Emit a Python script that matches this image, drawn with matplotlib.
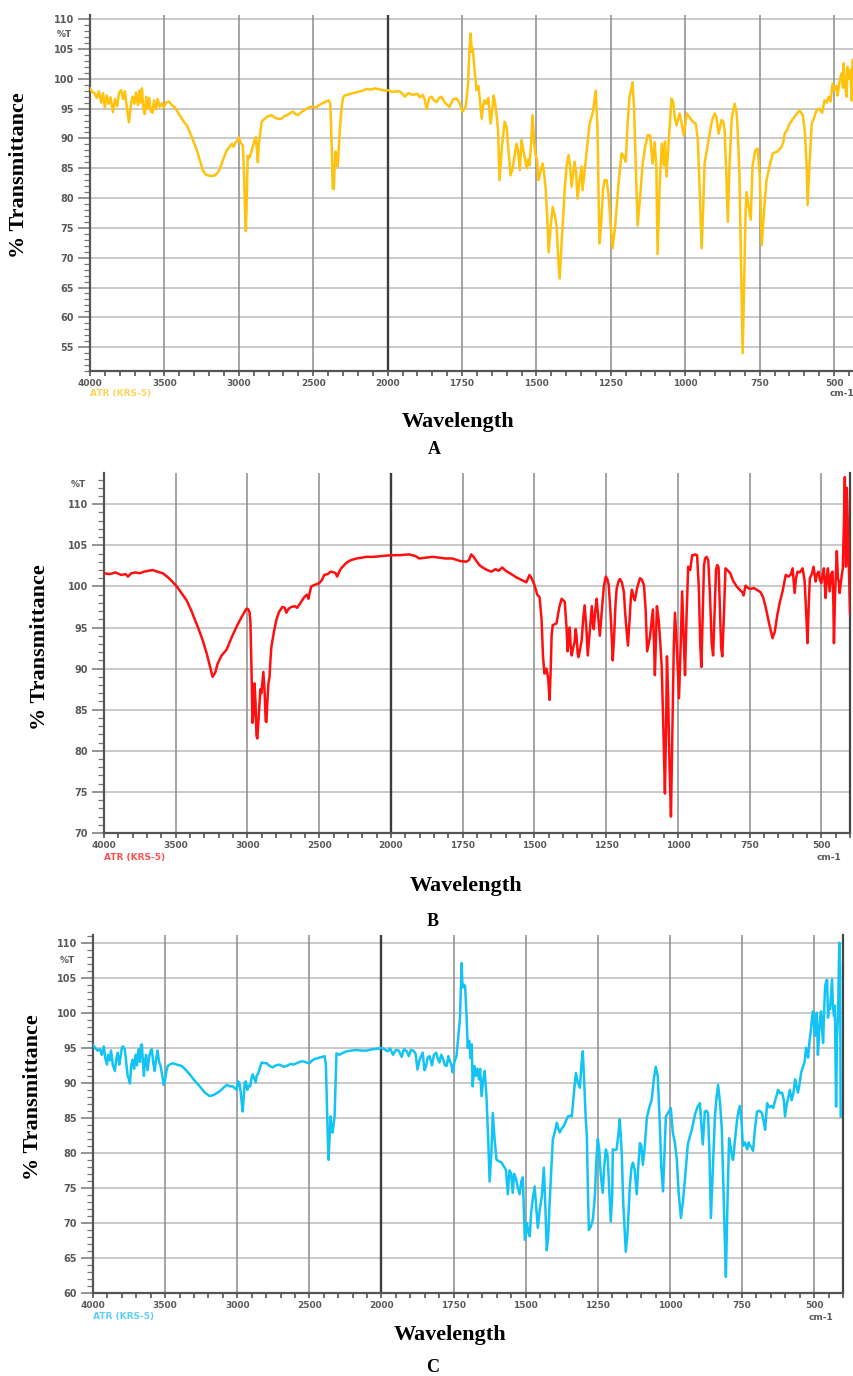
import numpy as np
import matplotlib
matplotlib.use("Agg")
import matplotlib.pyplot as plt
from matplotlib.ticker import FixedLocator, MultipleLocator

# ---------------- data (wavenumber cm-1, %T) ----------------
spec_a = np.array([
    (4000, 98.4), (3985, 97.8), (3970, 97.6), (3955, 96.8), (3940, 97.9), (3925, 96.0), (3912, 97.6),
    (3900, 95.2), (3888, 97.2), (3875, 95.8), (3862, 96.9), (3846, 94.4), (3832, 96.6), (3818, 95.4),
    (3805, 97.6), (3790, 98.1), (3778, 96.6), (3765, 97.9), (3752, 95.0), (3738, 92.7), (3726, 95.6),
    (3714, 97.0), (3702, 95.8), (3690, 97.7), (3678, 95.6), (3668, 98.0), (3660, 96.0), (3651, 98.4),
    (3642, 95.2), (3632, 94.1), (3622, 97.0), (3612, 95.0), (3602, 96.8), (3592, 94.6), (3580, 94.3),
    (3570, 96.4), (3558, 94.9), (3545, 96.6), (3532, 95.3), (3518, 95.9), (3505, 95.2), (3490, 96.0),
    (3470, 96.2), (3450, 95.6), (3430, 95.2), (3400, 94.0), (3370, 92.8), (3349, 92.2), (3320, 90.5),
    (3282, 88.0), (3260, 86.2), (3242, 84.7), (3225, 84.0), (3208, 83.8), (3185, 83.7), (3161, 83.8),
    (3140, 84.3), (3128, 84.9), (3105, 86.5), (3081, 88.0), (3065, 88.5), (3047, 89.1), (3035, 88.6),
    (3022, 89.3), (3010, 89.6), (3000, 90.2), (2988, 89.3), (2973, 88.8), (2965, 84.0), (2958, 77.5),
    (2953, 74.5), (2948, 78.5), (2940, 87.1), (2930, 86.7), (2918, 87.5), (2905, 88.8), (2895, 89.6),
    (2886, 90.2), (2878, 88.0), (2872, 86.0), (2866, 89.0), (2858, 90.5), (2846, 92.8), (2830, 93.2),
    (2812, 93.6), (2795, 93.8), (2779, 93.9), (2760, 93.5), (2738, 93.3), (2715, 93.3), (2695, 93.7),
    (2670, 94.0), (2652, 94.3), (2638, 94.5), (2620, 94.1), (2604, 93.9), (2575, 94.5), (2544, 95.0),
    (2520, 95.3), (2503, 95.3), (2480, 95.2), (2460, 95.6), (2430, 96.0), (2396, 96.4), (2385, 95.8),
    (2375, 88.0), (2369, 81.6), (2362, 81.5), (2355, 86.0), (2349, 87.8), (2342, 86.0), (2336, 85.3),
    (2330, 87.5), (2322, 91.1), (2310, 95.0), (2300, 96.8), (2289, 97.2), (2260, 97.4), (2235, 97.6),
    (2200, 97.8), (2170, 98.0), (2141, 98.3), (2110, 98.2), (2087, 98.4), (2050, 98.2), (2020, 98.0),
    (2000, 98.1), (1985, 97.8), (1970, 97.9), (1960, 97.9), (1950, 97.5), (1943, 97.0), (1930, 97.6),
    (1916, 97.3), (1900, 97.5), (1892, 96.9), (1882, 97.3), (1875, 96.5), (1869, 94.9), (1860, 96.8),
    (1852, 97.0), (1843, 96.3), (1835, 96.1), (1827, 96.8), (1819, 97.0), (1810, 96.2), (1800, 95.6),
    (1792, 95.3), (1780, 96.6), (1768, 96.7), (1758, 95.9), (1748, 94.5), (1738, 95.3), (1730, 99.0),
    (1725, 105.0), (1721, 107.6), (1717, 104.5), (1714, 105.1), (1708, 101.5), (1701, 98.1), (1695, 98.8),
    (1690, 96.5), (1684, 93.3), (1679, 95.5), (1674, 96.4), (1668, 95.8), (1662, 96.8), (1654, 92.5),
    (1648, 95.0), (1644, 97.2), (1639, 96.0), (1634, 93.9), (1629, 91.5), (1624, 83.0), (1616, 88.5),
    (1607, 92.8), (1600, 91.9), (1594, 88.0), (1587, 83.8), (1580, 85.0), (1572, 87.5), (1567, 89.1),
    (1562, 88.0), (1556, 84.7), (1550, 89.7), (1544, 88.0), (1538, 86.5), (1533, 85.0), (1528, 86.5),
    (1523, 85.5), (1518, 89.0), (1513, 93.9), (1508, 89.5), (1503, 87.2), (1498, 86.5), (1493, 83.0),
    (1486, 84.5), (1479, 85.8), (1474, 84.0), (1469, 81.6), (1464, 77.0), (1459, 70.9), (1452, 75.5),
    (1445, 78.5), (1438, 77.0), (1432, 75.1), (1427, 70.0), (1422, 66.5), (1416, 72.0), (1410, 77.0),
    (1405, 81.5), (1399, 85.3), (1392, 87.2), (1387, 85.5), (1382, 81.9), (1377, 84.0), (1372, 86.1),
    (1367, 84.5), (1362, 79.9), (1355, 83.0), (1348, 85.3), (1345, 81.3), (1338, 84.5), (1330, 88.5),
    (1321, 92.5), (1310, 94.5), (1301, 98.0), (1295, 92.0), (1291, 80.0), (1288, 72.4), (1282, 76.0),
    (1276, 81.5), (1271, 83.0), (1264, 83.0), (1257, 80.2), (1250, 75.0), (1244, 71.6), (1235, 75.5),
    (1225, 82.0), (1214, 87.5), (1207, 87.0), (1200, 86.1), (1193, 93.0), (1187, 97.2), (1180, 98.5),
    (1177, 99.4), (1172, 95.0), (1166, 85.0), (1160, 75.4), (1152, 80.0), (1143, 85.8), (1135, 88.5),
    (1126, 90.6), (1118, 90.5), (1110, 85.8), (1103, 89.4), (1097, 85.0), (1093, 70.6), (1086, 82.0),
    (1079, 89.1), (1072, 85.5), (1068, 89.5), (1063, 83.6), (1055, 90.0), (1046, 96.7), (1040, 96.0),
    (1035, 93.5), (1029, 92.2), (1019, 94.2), (1012, 92.5), (1005, 90.5), (995, 94.2), (985, 93.5),
    (975, 92.8), (965, 92.5), (958, 90.0), (952, 82.0), (945, 71.6), (940, 78.0), (935, 85.8),
    (926, 88.5), (918, 90.8), (910, 93.0), (901, 94.2), (895, 93.5), (888, 90.8), (878, 93.1),
    (872, 92.8), (868, 91.6), (862, 84.0), (857, 76.0), (851, 86.0), (844, 93.3), (834, 95.8),
    (828, 94.5), (824, 91.6), (818, 84.0), (812, 68.0), (807, 54.0), (802, 66.0), (797, 78.0),
    (794, 81.0), (787, 78.5), (780, 76.4), (774, 85.3), (765, 88.0), (757, 88.3), (750, 84.0),
    (743, 72.1), (735, 78.0), (727, 83.0), (716, 85.5), (706, 87.5), (690, 87.8), (676, 88.6),
    (670, 89.5), (666, 90.8), (657, 91.5), (649, 92.5), (632, 93.7), (616, 94.7), (605, 93.9),
    (598, 91.0), (592, 85.3), (589, 78.8), (583, 85.0), (575, 92.5), (567, 93.5), (559, 94.7),
    (550, 95.0), (540, 94.3), (532, 96.4), (525, 96.0), (518, 97.0), (512, 96.2), (505, 99.2),
    (498, 98.0), (492, 98.8), (488, 97.2), (482, 99.5), (475, 100.9), (470, 98.5), (468, 102.6),
    (463, 99.0), (458, 97.0), (455, 102.0), (450, 100.0), (445, 101.5), (441, 96.4), (437, 103.2),
    (433, 96.0),
])

spec_b = np.array([
    (4000, 101.6), (3960, 101.5), (3920, 101.7), (3880, 101.4), (3850, 101.5), (3833, 101.2),
    (3810, 101.6), (3780, 101.7), (3750, 101.6), (3720, 101.8), (3690, 101.9), (3660, 102.0),
    (3630, 101.8), (3590, 101.6), (3560, 101.2), (3530, 100.7), (3493, 100.0), (3460, 99.2),
    (3424, 98.3), (3390, 97.0), (3347, 95.1), (3315, 93.6), (3285, 91.9), (3262, 90.3), (3243, 89.0),
    (3225, 89.5), (3208, 90.6), (3180, 91.6), (3146, 92.3), (3110, 93.8), (3076, 95.1), (3040, 96.3),
    (3007, 97.3), (2993, 97.2), (2985, 96.8), (2979, 95.5), (2972, 90.0), (2965, 83.4), (2958, 84.5),
    (2951, 88.2), (2944, 86.0), (2937, 81.8), (2931, 81.5), (2924, 83.5), (2917, 85.5), (2910, 87.5),
    (2903, 87.0), (2889, 89.6), (2880, 87.0), (2873, 83.6), (2868, 83.5), (2861, 86.0), (2854, 88.2),
    (2846, 89.0), (2840, 91.0), (2833, 92.7), (2815, 94.5), (2799, 95.9), (2780, 96.9), (2757, 97.5),
    (2740, 97.4), (2729, 96.8), (2712, 97.3), (2694, 97.5), (2670, 97.6), (2653, 97.4), (2630, 98.0),
    (2604, 98.7), (2585, 99.0), (2575, 98.5), (2556, 100.0), (2530, 100.2), (2500, 100.4),
    (2480, 100.8), (2465, 101.4), (2440, 101.5), (2420, 101.8), (2396, 101.7), (2385, 101.6),
    (2375, 101.2), (2360, 101.8), (2347, 102.2), (2320, 102.7), (2300, 103.0), (2278, 103.2),
    (2240, 103.4), (2200, 103.5), (2174, 103.6), (2120, 103.6), (2060, 103.7), (2000, 103.8),
    (1970, 103.8), (1937, 103.9), (1915, 103.7), (1902, 103.4), (1880, 103.5), (1856, 103.6),
    (1830, 103.5), (1810, 103.4), (1786, 103.4), (1760, 103.1), (1738, 103.0), (1728, 103.2),
    (1720, 103.9), (1712, 103.6), (1700, 103.0), (1692, 102.6), (1680, 102.3), (1665, 102.0),
    (1650, 101.8), (1635, 102.1), (1625, 101.9), (1612, 102.3), (1600, 101.9), (1585, 101.6),
    (1563, 101.1), (1545, 100.8), (1528, 100.5), (1517, 101.4), (1510, 101.0), (1500, 100.2),
    (1490, 99.0), (1482, 98.7), (1475, 96.0), (1470, 91.5), (1465, 89.4), (1458, 90.0), (1452, 88.8),
    (1447, 86.2), (1443, 90.0), (1440, 94.0), (1436, 95.3), (1423, 95.5), (1413, 97.5), (1405, 98.5),
    (1394, 98.1), (1388, 95.0), (1384, 92.1), (1380, 94.0), (1377, 95.0), (1373, 92.5), (1370, 91.6),
    (1365, 92.5), (1360, 93.2), (1356, 94.8), (1353, 94.0), (1349, 91.8), (1346, 91.4), (1340, 92.5),
    (1335, 93.5), (1330, 96.0), (1325, 97.7), (1319, 95.0), (1314, 91.6), (1307, 94.5), (1300, 97.6),
    (1296, 95.5), (1293, 94.8), (1288, 97.0), (1283, 98.5), (1278, 96.5), (1272, 94.0), (1265, 97.0),
    (1258, 100.0), (1251, 101.2), (1245, 100.8), (1241, 100.2), (1235, 97.0), (1230, 93.5),
    (1227, 91.0), (1222, 94.0), (1217, 98.0), (1213, 99.8), (1206, 100.7), (1202, 100.9),
    (1195, 100.5), (1188, 99.3), (1184, 97.0), (1181, 95.6), (1177, 94.0), (1174, 92.8), (1168, 96.0),
    (1164, 98.5), (1160, 99.6), (1155, 98.8), (1150, 98.3), (1142, 99.8), (1132, 101.0), (1125, 100.8),
    (1118, 100.1), (1112, 97.0), (1107, 92.1), (1102, 93.0), (1097, 93.9), (1092, 95.5), (1087, 97.2),
    (1083, 93.0), (1080, 89.2), (1077, 93.0), (1073, 97.6), (1067, 96.0), (1062, 93.6), (1056, 90.0),
    (1050, 82.0), (1045, 74.8), (1041, 83.0), (1038, 91.5), (1034, 87.0), (1029, 78.0), (1024, 72.0),
    (1018, 85.0), (1014, 93.0), (1010, 96.8), (1004, 93.0), (996, 86.4), (990, 93.0), (985, 99.4),
    (980, 94.0), (975, 89.2), (970, 96.0), (964, 102.4), (957, 102.0), (950, 103.8), (946, 103.8),
    (940, 103.9), (933, 103.8), (927, 100.0), (922, 93.0), (918, 90.2), (913, 97.0), (909, 102.5),
    (905, 103.4), (900, 103.6), (894, 103.2), (888, 99.0), (882, 93.0), (877, 91.6), (872, 97.0),
    (867, 102.0), (863, 102.6), (858, 102.3), (853, 97.0), (849, 92.5), (845, 91.5), (840, 96.0),
    (834, 102.2), (825, 101.9), (817, 101.6), (811, 101.0), (806, 100.6), (795, 100.0), (782, 99.5),
    (775, 99.3), (771, 98.9), (764, 100.1), (755, 99.8), (747, 99.7), (735, 99.8), (725, 99.6),
    (712, 99.3), (703, 98.7), (694, 97.5), (682, 95.5), (670, 93.7), (662, 94.5), (653, 96.6),
    (645, 98.0), (635, 99.4), (624, 101.4), (615, 101.2), (607, 101.4), (600, 102.2), (593, 99.2),
    (588, 101.0), (583, 101.8), (575, 101.7), (565, 102.2), (558, 100.6), (553, 97.0), (548, 93.1),
    (544, 97.5), (540, 101.0), (533, 101.5), (527, 102.4), (520, 100.6), (515, 101.5), (509, 101.8),
    (505, 100.8), (500, 100.4), (495, 101.5), (491, 102.2), (485, 98.6), (481, 101.0), (477, 102.2),
    (471, 99.4), (466, 101.5), (461, 101.8), (458, 98.0), (456, 93.1), (452, 99.0), (446, 104.3),
    (442, 101.0), (439, 100.6), (436, 99.2), (430, 101.0), (425, 102.2), (421, 108.0), (418, 113.3),
    (414, 102.4), (411, 112.0), (407, 106.9), (403, 101.0), (400, 96.7),
])

spec_c = np.array([
    (4000, 95.4), (3985, 95.0), (3970, 94.6), (3952, 94.8), (3940, 94.0), (3925, 95.2), (3915, 93.5),
    (3903, 92.6), (3895, 94.0), (3885, 93.2), (3875, 94.6), (3862, 92.5), (3848, 91.7), (3838, 93.5),
    (3828, 94.3), (3818, 92.6), (3808, 93.8), (3800, 95.0), (3792, 95.2), (3780, 94.8), (3770, 93.0),
    (3760, 91.0), (3750, 90.5), (3744, 89.9), (3735, 92.5), (3725, 93.3), (3715, 92.0), (3705, 94.0),
    (3695, 92.5), (3685, 94.8), (3675, 93.0), (3668, 95.3), (3661, 95.5), (3654, 93.0), (3647, 91.0),
    (3640, 93.0), (3632, 94.0), (3622, 91.8), (3612, 93.5), (3602, 94.5), (3592, 94.8), (3582, 92.8),
    (3572, 91.7), (3562, 93.5), (3552, 94.6), (3542, 93.0), (3532, 92.5), (3523, 91.4), (3515, 90.5),
    (3509, 89.7), (3500, 90.5), (3490, 91.8), (3481, 92.4), (3470, 92.6), (3446, 92.8), (3420, 92.6),
    (3384, 92.4), (3355, 91.8), (3329, 91.2), (3295, 90.3), (3260, 89.5), (3225, 88.6), (3190, 88.1),
    (3160, 88.3), (3121, 88.8), (3095, 89.3), (3073, 89.7), (3050, 89.5), (3031, 89.5), (3015, 89.2),
    (3004, 89.0), (2995, 90.2), (2985, 90.0), (2975, 88.5), (2968, 87.0), (2962, 85.9), (2955, 88.0),
    (2948, 90.0), (2941, 90.2), (2930, 89.0), (2920, 89.6), (2910, 89.5), (2900, 90.8), (2893, 91.2),
    (2880, 90.5), (2872, 90.1), (2865, 91.0), (2855, 91.3), (2845, 92.0), (2831, 92.9), (2812, 92.8),
    (2796, 92.8), (2775, 92.4), (2754, 92.2), (2730, 92.5), (2706, 92.6), (2680, 92.3), (2658, 92.4),
    (2630, 92.7), (2610, 92.6), (2588, 92.8), (2565, 93.0), (2547, 93.1), (2520, 92.9), (2498, 92.8),
    (2480, 93.2), (2464, 93.4), (2430, 93.6), (2394, 93.8), (2385, 92.5), (2378, 87.0), (2372, 82.0),
    (2367, 79.0), (2360, 82.0), (2353, 85.2), (2346, 83.5), (2339, 82.9), (2332, 84.0), (2325, 85.2),
    (2318, 90.0), (2312, 94.2), (2291, 94.0), (2265, 94.3), (2242, 94.5), (2210, 94.6), (2173, 94.7),
    (2140, 94.6), (2104, 94.6), (2060, 94.8), (2014, 94.9), (2000, 95.0), (1990, 94.8), (1979, 94.5),
    (1970, 94.9), (1960, 94.0), (1950, 94.7), (1940, 94.6), (1930, 93.7), (1922, 94.8), (1912, 94.5),
    (1905, 93.8), (1898, 94.7), (1890, 94.6), (1882, 94.2), (1875, 91.9), (1868, 93.3), (1860, 94.0),
    (1857, 94.3), (1851, 91.8), (1845, 92.4), (1840, 93.6), (1833, 93.8), (1825, 92.5), (1818, 94.0),
    (1810, 94.3), (1805, 93.5), (1799, 92.9), (1793, 94.0), (1787, 93.5), (1780, 92.5), (1774, 92.4),
    (1768, 93.8), (1762, 93.0), (1757, 92.5), (1753, 91.5), (1747, 93.0), (1740, 93.8), (1734, 96.5),
    (1728, 99.1), (1722, 107.1), (1719, 103.6), (1714, 104.0), (1710, 103.8), (1705, 99.5), (1701, 95.0),
    (1696, 96.0), (1691, 93.5), (1687, 95.5), (1684, 89.5), (1678, 92.4), (1673, 91.0), (1668, 92.0),
    (1662, 90.5), (1658, 92.0), (1653, 88.1), (1647, 90.5), (1642, 91.7), (1636, 88.0), (1630, 82.0),
    (1625, 75.9), (1619, 80.0), (1614, 85.7), (1608, 82.0), (1601, 79.0), (1592, 78.8), (1583, 78.6),
    (1575, 78.0), (1568, 77.5), (1562, 74.1), (1556, 77.5), (1550, 77.0), (1545, 74.3), (1540, 77.0),
    (1533, 76.2), (1527, 75.0), (1521, 74.1), (1515, 76.0), (1510, 76.5), (1503, 67.6), (1496, 70.0),
    (1490, 68.5), (1486, 68.1), (1481, 71.5), (1476, 73.3), (1469, 75.2), (1463, 72.0), (1458, 69.3),
    (1451, 72.0), (1444, 73.8), (1437, 77.9), (1432, 72.5), (1427, 66.1), (1422, 68.0), (1417, 72.9),
    (1410, 78.5), (1406, 81.9), (1399, 83.0), (1392, 84.3), (1387, 83.5), (1382, 82.9), (1375, 83.5),
    (1368, 83.8), (1361, 84.5), (1354, 85.2), (1347, 85.3), (1340, 85.2), (1333, 88.5), (1326, 91.4),
    (1319, 90.0), (1312, 89.3), (1307, 92.5), (1302, 94.5), (1297, 90.0), (1292, 85.0), (1288, 82.4),
    (1284, 74.0), (1281, 69.0), (1274, 69.5), (1267, 70.5), (1260, 74.0), (1255, 79.0), (1250, 82.0),
    (1245, 80.5), (1240, 77.0), (1233, 74.3), (1228, 78.0), (1222, 80.5), (1216, 79.5), (1212, 76.0),
    (1205, 70.2), (1200, 74.0), (1198, 80.5), (1190, 80.4), (1185, 80.5), (1179, 82.5), (1174, 84.8),
    (1170, 82.0), (1167, 80.0), (1162, 73.0), (1153, 65.9), (1147, 68.5), (1139, 75.2), (1133, 78.0),
    (1128, 78.6), (1122, 77.5), (1115, 74.1), (1109, 78.5), (1104, 81.4), (1099, 81.0), (1094, 78.3),
    (1088, 80.5), (1080, 85.0), (1072, 86.4), (1063, 87.6), (1056, 90.5), (1049, 92.3), (1042, 90.9),
    (1035, 84.0), (1030, 78.0), (1024, 74.5), (1019, 80.0), (1014, 85.2), (1005, 85.8), (997, 86.4),
    (990, 82.9), (983, 81.5), (976, 79.0), (970, 74.5), (962, 70.7), (955, 73.0), (948, 76.2),
    (938, 81.2), (930, 82.5), (924, 83.3), (918, 84.5), (913, 85.5), (905, 86.5), (896, 87.1),
    (891, 84.0), (886, 81.2), (879, 85.9), (873, 86.0), (868, 85.7), (863, 80.0), (858, 70.7),
    (851, 78.0), (844, 85.2), (838, 88.0), (833, 89.7), (826, 87.0), (820, 83.3), (814, 74.0),
    (810, 68.0), (806, 62.3), (801, 72.0), (795, 82.1), (790, 81.0), (785, 79.5), (781, 79.0),
    (774, 82.0), (767, 84.8), (762, 86.0), (757, 86.7), (752, 84.5), (747, 81.0), (740, 81.5),
    (732, 80.5), (727, 81.5), (722, 81.0), (717, 80.8), (712, 80.3), (705, 83.5), (698, 85.9),
    (690, 86.0), (681, 85.7), (675, 84.5), (670, 83.3), (663, 87.1), (655, 86.5), (648, 86.7),
    (642, 86.4), (635, 87.5), (625, 89.0), (618, 88.5), (611, 88.6), (605, 87.5), (601, 85.2),
    (595, 87.0), (589, 88.0), (584, 89.0), (578, 87.5), (572, 88.5), (566, 90.5), (561, 89.5),
    (556, 88.6), (550, 90.0), (545, 91.5), (538, 92.4), (533, 93.0), (528, 95.0), (525, 94.5),
    (521, 93.6), (516, 96.0), (511, 97.6), (507, 99.5), (504, 100.2), (500, 98.0), (497, 96.7),
    (494, 98.5), (491, 100.0), (487, 94.0), (483, 97.0), (479, 99.5), (476, 100.2), (473, 98.0),
    (469, 95.7), (466, 99.5), (462, 103.8), (458, 104.5), (455, 104.7), (452, 99.3), (449, 101.0),
    (445, 100.5), (441, 103.0), (438, 104.8), (435, 101.0), (431, 99.5), (428, 101.0), (424, 86.6),
    (421, 96.0), (417, 100.0), (413, 110.0), (410, 106.2), (408, 85.2),
])

x_major = [4000, 3500, 3000, 2500, 2000, 1750, 1500, 1250, 1000, 750, 500]
x_labels = ["4000", "3500", "3000", "2500", "2000", "1750", "1500", "1250", "1000", "750", "500"]
panel_letters = ["A", "B", "C"]
colors = ["#FFC20E", "#FF0F0F", "#12C3F4"]
atr_colors = ["#FFD35A", "#FF5050", "#5CCFF8"]

# ---------------- layout (pixels) ----------------
W, H = 854, 1376
fig = plt.figure(figsize=(W / 100, H / 100), dpi=100, facecolor="white")


def fx(x):
    return x / W


def fy(y):
    return 1 - y / H


def fwd(x):
    x = np.asarray(x, dtype=float)
    return np.where(x >= 2000, x, 2 * x - 2000)


def inv(u):
    u = np.asarray(u, dtype=float)
    return np.where(u >= 2000, u, (u + 2000) / 2)


panels = [
    dict(l=90, r=854, t=15, b=371, xmin=433, ylo=51, yhi=110.7, yt=range(55, 111, 5), pt=107.5, rs=False,
         ylab=(19, 175), atr=(90, 394), cm=(830, 394), wl=(458, 422), let=(434, 450)),
    dict(l=104, r=850, t=473, b=833, xmin=400, ylo=70, yhi=113.8, yt=range(70, 111, 5), pt=112.4, rs=True,
         ylab=(40, 647), atr=(104, 857), cm=(817, 857), wl=(466, 886), let=(433, 921)),
    dict(l=93, r=843, t=935, b=1293, xmin=400, ylo=60, yhi=111.1, yt=range(60, 111, 5), pt=107.5, rs=True,
         ylab=(33, 1097), atr=(93, 1316), cm=(809, 1317), wl=(450, 1335), let=(433, 1368)),
]
specs = [spec_a, spec_b, spec_c]

minor_x = [v for v in list(range(4000, 1999, -100)) + list(range(2000, 399, -50)) if v not in x_major]

serif = ["Liberation Serif", "DejaVu Serif"]

for i, p in enumerate(panels):
    ax = fig.add_axes([fx(p["l"]), fy(p["b"]), fx(p["r"] - p["l"]), (p["b"] - p["t"]) / H])
    ax.set_xscale("function", functions=(fwd, inv))
    ax.set_xlim(4000, p["xmin"])
    ax.set_ylim(p["ylo"], p["yhi"])

    # grid
    for yv in p["yt"]:
        ax.axhline(yv, color="#c9c9c9", lw=1.4, zorder=1)
    for xv in x_major:
        if xv == 4000:
            continue
        if xv == 2000:
            ax.axvline(xv, color="#3c3c3c", lw=1.7, zorder=1)
        else:
            ax.axvline(xv, color="#8c8c8c", lw=1.1, zorder=1)

    sp = specs[i]
    ax.plot(sp[:, 0], sp[:, 1], color=colors[i], lw=1.8, solid_joinstyle="round", zorder=3)

    ax.xaxis.set_major_locator(FixedLocator(x_major))
    ax.set_xticklabels(x_labels)
    ax.xaxis.set_minor_locator(FixedLocator(minor_x))
    ax.yaxis.set_major_locator(FixedLocator(list(p["yt"])))
    ax.yaxis.set_minor_locator(MultipleLocator(1))

    ax.tick_params(axis="x", which="both", direction="out", length=3.5, width=1.2, color="#555555",
                   labelsize=6.5, labelcolor="#5a5a5a", pad=2)
    ax.tick_params(axis="y", which="major", direction="out", length=9, width=1.1, color="#777777",
                   labelsize=7, labelcolor="#5a5a5a", pad=2.5)
    ax.tick_params(axis="y", which="minor", direction="out", length=4.5, width=0.9, color="#777777")
    for lab in ax.get_xticklabels() + ax.get_yticklabels():
        lab.set_fontweight("bold")

    ax.spines["top"].set_visible(False)
    ax.spines["right"].set_visible(p["rs"])
    ax.spines["right"].set_color("#444444")
    ax.spines["right"].set_linewidth(1.6)
    ax.spines["left"].set_color("#555555")
    ax.spines["left"].set_linewidth(1.6)
    ax.spines["bottom"].set_color("#555555")
    ax.spines["bottom"].set_linewidth(1.6)

    # %T
    ax.annotate("%T", xy=(0, p["pt"]), xycoords=ax.get_yaxis_transform(), xytext=(-13, 0),
                textcoords="offset points", ha="right", va="center", fontsize=6.5,
                fontweight="bold", color="#5a5a5a")

    fig.text(fx(p["atr"][0]), fy(p["atr"][1]), "ATR (KRS-5)", color=atr_colors[i], fontsize=6.5,
             fontweight="bold", ha="left", va="center")
    fig.text(fx(p["cm"][0]), fy(p["cm"][1]), "cm-1", color="#5a5a5a", fontsize=6.5,
             fontweight="bold", ha="left", va="center")

    fig.text(fx(p["ylab"][0]), fy(p["ylab"][1]), "% Transmittance", rotation=90, family=serif,
             fontsize=16, fontweight="bold", ha="center", va="center", color="black")
    fig.text(fx(p["wl"][0]), fy(p["wl"][1]), "Wavelength", family=serif,
             fontsize=16, fontweight="bold", ha="center", va="center", color="black")
    fig.text(fx(p["let"][0]), fy(p["let"][1]), panel_letters[i], family=serif,
             fontsize=13, fontweight="bold", ha="center", va="center", color="black")

fig.savefig("out.png", dpi=100, facecolor="white")
